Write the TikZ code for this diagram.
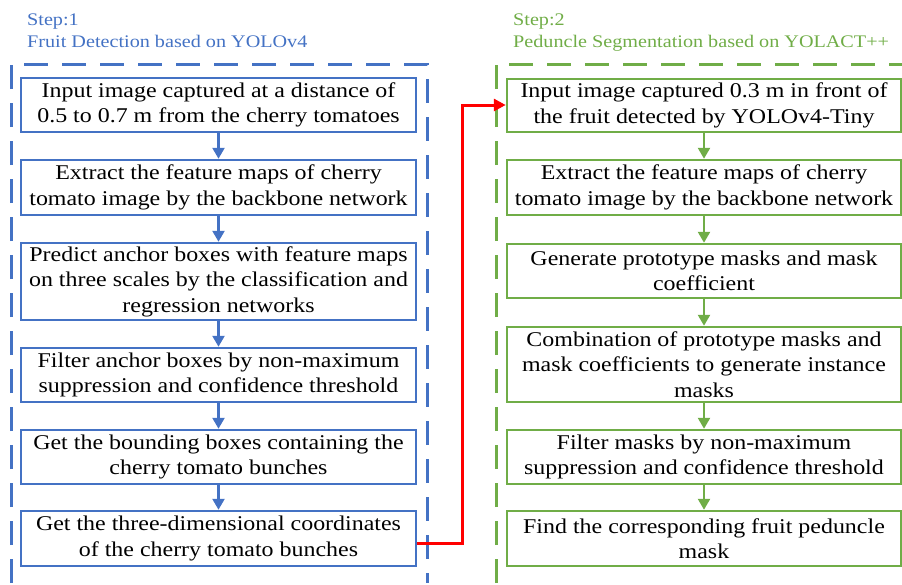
\documentclass[tikz,border=0pt]{standalone}
\usepackage{fontspec}
\setmainfont{Liberation Serif}[FakeStretch=1.14]
\usetikzlibrary{arrows.meta}
\definecolor{myblue}{HTML}{4472C4}
\definecolor{mygreen}{HTML}{70AD47}
\definecolor{myred}{HTML}{FF0000}
\begin{document}
\begin{tikzpicture}[x=1pt,y=-1pt,
  box/.style={draw, line width=2.5pt, fill=white, inner sep=0pt, align=center,
    font=\fontsize{21}{25.5}\selectfont, text=black},
  lbox/.style={box, draw=myblue, minimum width=395pt},
  rbox/.style={box, draw=mygreen, minimum width=394pt},
  frame/.style={line width=3pt, dash pattern=on 24pt off 14pt},
  head/.style={anchor=base west, inner sep=0pt, font=\fontsize{17.7}{20}\selectfont},
  flow/.style={line width=2.5pt, -{Triangle[length=11pt,width=12pt]}},
]
\useasboundingbox (0,0) rectangle (902,584);
% frames
\draw[frame, myblue] (11,583) -- (11,64) -- (427,64) -- (427,583);
\draw[frame, mygreen] (496,583) -- (496,64) -- (912,64);
% headers
\node[head, text=myblue] (h1a) at (27,25.7) {Step:1};
\node[head, text=myblue] (h1b) at (27,47.7) {Fruit Detection based on YOLOv4};
\node[head, text=mygreen] (h2a) at (513,25.7) {Step:2};
\node[head, text=mygreen] (h2b) at (513,47.7) {Peduncle Segmentation based on YOLACT++};
% left boxes
\node[lbox, minimum height=54pt] (l1) at (218.5,105) {Input image captured at a distance of\\0.5 to 0.7 m from the cherry tomatoes};
\node[lbox, minimum height=55pt] (l2) at (218.5,187.5) {Extract the feature maps of cherry\\tomato image by the backbone network};
\node[lbox, minimum height=77pt] (l3) at (218.5,281.5) {Predict anchor boxes with feature maps\\on three scales by the classification and\\regression networks};
\node[lbox, minimum height=54pt] (l4) at (218.5,375) {Filter anchor boxes by non-maximum\\suppression and confidence threshold};
\node[lbox, minimum height=54pt] (l5) at (218.5,457) {Get the bounding boxes containing the\\cherry tomato bunches};
\node[lbox, minimum height=55pt] (l6) at (218.5,538.5) {Get the three-dimensional coordinates\\of the cherry tomato bunches};
% right boxes
\node[rbox, minimum height=53pt] (r1) at (704,105.5) {Input image captured 0.3 m in front of\\the fruit detected by YOLOv4-Tiny};
\node[rbox, minimum height=55pt] (r2) at (704,187.5) {Extract the feature maps of cherry\\tomato image by the backbone network};
\node[rbox, minimum height=54pt] (r3) at (704,271) {Generate prototype masks and mask\\coefficient};
\node[rbox, minimum height=75pt] (r4) at (704,364.5) {Combination of prototype masks and\\mask coefficients to generate instance\\masks};
\node[rbox, minimum height=54pt] (r5) at (704,457) {Filter masks by non-maximum\\suppression and confidence threshold};
\node[rbox, minimum height=55pt] (r6) at (704,538.5) {Find the corresponding fruit peduncle\\mask};
% arrows
\foreach \a/\b in {l1/l2,l2/l3,l3/l4,l4/l5,l5/l6}
  \draw[flow, myblue] (\a.south) -- (\b.north);
\foreach \a/\b in {r1/r2,r2/r3,r3/r4,r4/r5,r5/r6}
  \draw[flow, mygreen] (\a.south) -- (\b.north);
\coordinate (c1) at (462,543);
\coordinate (c2) at (462,105);
\draw[line width=3pt, myred, -{Triangle[length=12pt,width=12pt]}] (l6.east |- c1) -- (c1) -- (c2) -- (r1.west |- c2);
\end{tikzpicture}
\end{document}
